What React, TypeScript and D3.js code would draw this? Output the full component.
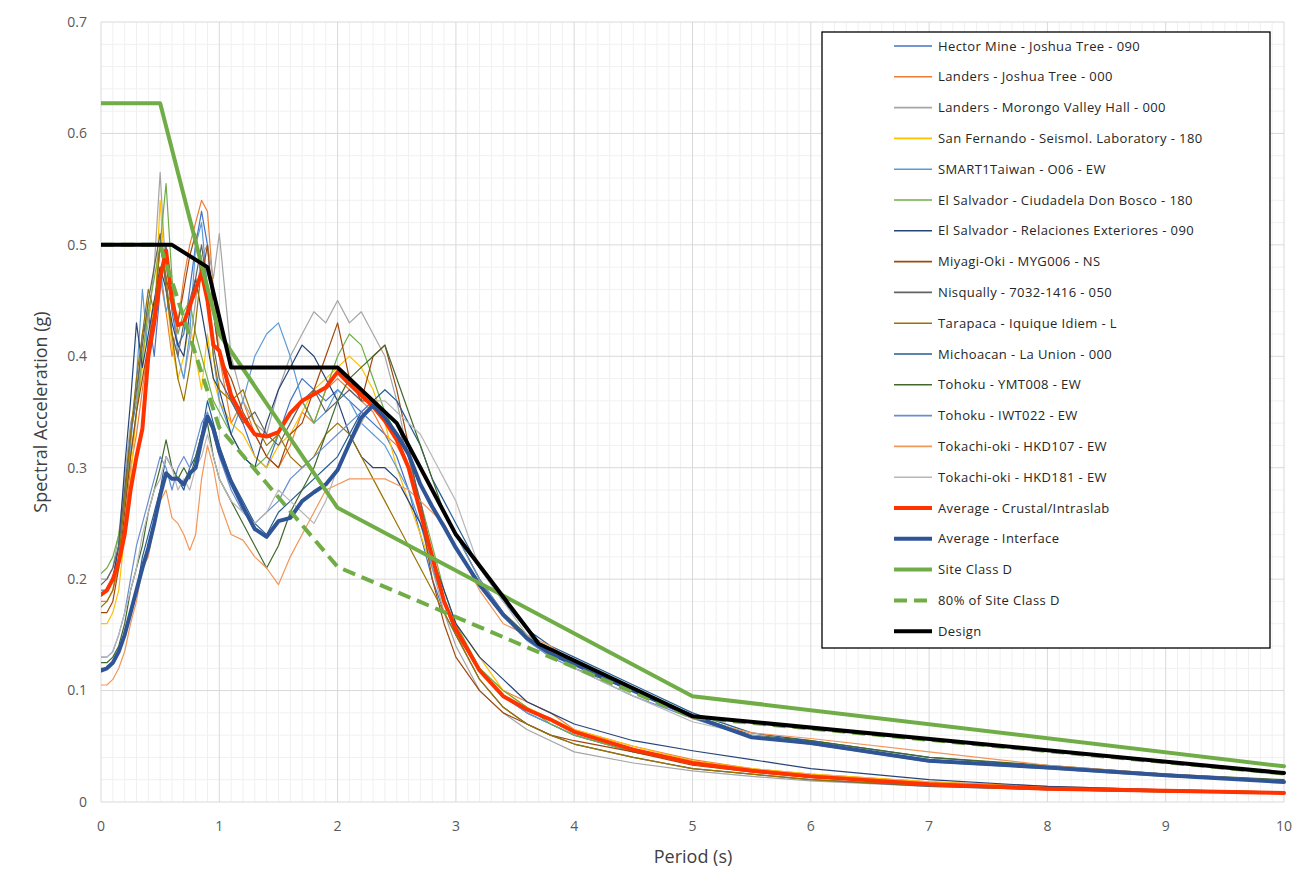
import React from "react";
import * as d3 from "d3";

// Periods (s) at which every spectrum is sampled
const PERIODS = [
  0, 0.05, 0.1, 0.15, 0.2, 0.25, 0.3, 0.35, 0.4, 0.45, 0.5, 0.55, 0.6, 0.65, 0.7, 0.75, 0.8, 0.85, 0.9, 0.95, 1.0,
  1.1, 1.2, 1.3, 1.4, 1.5, 1.6, 1.7, 1.8, 1.9, 2.0, 2.1, 2.2, 2.3, 2.4, 2.5, 2.6, 2.7, 2.8, 2.9, 3.0,
  3.2, 3.4, 3.6, 3.8, 4.0,
  4.5, 5.0, 5.5, 6.0,
  7.0, 8.0, 9.0, 10.0,
];

// Spectral accelerations (g) of the individual records
const HECTOR_MINE_JT_090 = [
  0.19, 0.19, 0.2, 0.23, 0.28, 0.33, 0.36, 0.42, 0.44, 0.4, 0.46, 0.5, 0.44, 0.41, 0.42, 0.46, 0.5, 0.53, 0.5, 0.44, 0.4,
  0.36, 0.34, 0.31, 0.3, 0.33, 0.36, 0.38, 0.37, 0.36, 0.37, 0.36, 0.35, 0.34, 0.33, 0.31, 0.28, 0.24, 0.2, 0.17, 0.15,
  0.12, 0.095, 0.08, 0.07, 0.06,
  0.045, 0.035, 0.028, 0.022,
  0.016, 0.012, 0.01, 0.008,
];
const LANDERS_JT_000 = [
  0.18, 0.18, 0.19, 0.21, 0.25, 0.3, 0.33, 0.37, 0.41, 0.45, 0.47, 0.44, 0.4, 0.43, 0.47, 0.5, 0.52, 0.54, 0.53, 0.46, 0.4,
  0.34, 0.36, 0.33, 0.31, 0.3, 0.32, 0.35, 0.34, 0.37, 0.38, 0.37, 0.36, 0.35, 0.33, 0.32, 0.3, 0.27, 0.22, 0.18, 0.15,
  0.12, 0.1, 0.09, 0.08, 0.065,
  0.05, 0.038, 0.03, 0.025,
  0.018, 0.014, 0.011, 0.009,
];
const LANDERS_MVH_000 = [
  0.2, 0.2, 0.21, 0.24, 0.29, 0.34, 0.36, 0.4, 0.43, 0.48, 0.565, 0.47, 0.42, 0.4, 0.38, 0.41, 0.45, 0.49, 0.5, 0.47, 0.51,
  0.4, 0.36, 0.34, 0.33, 0.37, 0.4, 0.42, 0.44, 0.43, 0.45, 0.43, 0.44, 0.42, 0.4, 0.36, 0.31, 0.26, 0.21, 0.17, 0.14,
  0.1, 0.08, 0.065, 0.055, 0.045,
  0.035, 0.028, 0.023, 0.019,
  0.014, 0.011, 0.009, 0.008,
];
const SAN_FERNANDO_SL_180 = [
  0.16, 0.16, 0.17, 0.19, 0.24, 0.29, 0.35, 0.39, 0.45, 0.43, 0.54, 0.46, 0.41, 0.38, 0.4, 0.43, 0.4, 0.37, 0.42, 0.38, 0.36,
  0.34, 0.33, 0.31, 0.3, 0.32, 0.33, 0.35, 0.37, 0.38, 0.39, 0.4, 0.39, 0.37, 0.34, 0.3, 0.27, 0.24, 0.21, 0.18, 0.16,
  0.13, 0.1, 0.085, 0.075, 0.065,
  0.05, 0.037, 0.03, 0.025,
  0.018, 0.013, 0.011, 0.009,
];
const SMART1_O06_EW = [
  0.19, 0.19, 0.2, 0.22, 0.27, 0.32, 0.38, 0.46, 0.4, 0.43, 0.48, 0.44, 0.46, 0.4, 0.38, 0.42, 0.5, 0.52, 0.46, 0.4, 0.36,
  0.33, 0.36, 0.4, 0.42, 0.43, 0.4, 0.36, 0.34, 0.35, 0.37, 0.36, 0.34, 0.33, 0.32, 0.3, 0.28, 0.25, 0.21, 0.18, 0.155,
  0.12, 0.095, 0.08, 0.07, 0.06,
  0.045, 0.035, 0.028, 0.023,
  0.016, 0.012, 0.01, 0.008,
];
const EL_SALVADOR_CDB_180 = [
  0.205, 0.21, 0.22, 0.24, 0.27, 0.31, 0.35, 0.4, 0.44, 0.47, 0.5, 0.555, 0.47, 0.42, 0.44, 0.45, 0.42, 0.4, 0.38, 0.36, 0.35,
  0.33, 0.31, 0.3, 0.31, 0.33, 0.35, 0.36, 0.34, 0.37, 0.4, 0.42, 0.41, 0.38, 0.35, 0.33, 0.3, 0.27, 0.23, 0.19, 0.16,
  0.12, 0.1, 0.085, 0.07, 0.06,
  0.045, 0.035, 0.028, 0.022,
  0.016, 0.012, 0.01, 0.008,
];
const EL_SALVADOR_RE_090 = [
  0.185, 0.19, 0.2, 0.23, 0.3, 0.36, 0.43, 0.39, 0.42, 0.45, 0.48, 0.46, 0.43, 0.41, 0.4, 0.44, 0.47, 0.44, 0.41, 0.38, 0.37,
  0.33, 0.31, 0.3, 0.34, 0.37, 0.39, 0.41, 0.4, 0.38, 0.36, 0.33, 0.31, 0.3, 0.3, 0.29, 0.27, 0.25, 0.22, 0.19, 0.16,
  0.13, 0.11, 0.09, 0.08, 0.07,
  0.055, 0.046, 0.038, 0.03,
  0.02, 0.014, 0.011, 0.009,
];
const MIYAGI_MYG006_NS = [
  0.17, 0.17, 0.18, 0.21, 0.26, 0.31, 0.35, 0.38, 0.41, 0.44, 0.5, 0.47, 0.45, 0.43, 0.46, 0.49, 0.51, 0.47, 0.5, 0.44, 0.4,
  0.38, 0.35, 0.33, 0.31, 0.3, 0.33, 0.34, 0.37, 0.4, 0.43, 0.38, 0.36, 0.4, 0.41, 0.37, 0.32, 0.26, 0.2, 0.16, 0.13,
  0.1, 0.08, 0.07, 0.06, 0.055,
  0.045, 0.033, 0.027, 0.022,
  0.016, 0.012, 0.01, 0.008,
];
const NISQUALLY_7032_050 = [
  0.195, 0.2, 0.21, 0.23, 0.28, 0.33, 0.37, 0.41, 0.45, 0.48, 0.51, 0.46, 0.42, 0.4, 0.43, 0.45, 0.47, 0.5, 0.46, 0.41, 0.38,
  0.36, 0.34, 0.35, 0.33, 0.32, 0.34, 0.36, 0.37, 0.35, 0.36, 0.37, 0.36, 0.36, 0.35, 0.34, 0.31, 0.27, 0.22, 0.18, 0.15,
  0.11, 0.085, 0.07, 0.06, 0.052,
  0.04, 0.03, 0.025, 0.02,
  0.014, 0.011, 0.009, 0.008,
];
const TARAPACA_IQUIQUE_L = [
  0.175, 0.18, 0.19, 0.22, 0.27, 0.33, 0.38, 0.42, 0.46, 0.44, 0.5, 0.47, 0.42, 0.38, 0.36, 0.39, 0.43, 0.48, 0.46, 0.4, 0.37,
  0.36, 0.37, 0.34, 0.32, 0.33, 0.31, 0.3, 0.31, 0.33, 0.34, 0.33, 0.31, 0.29, 0.27, 0.25, 0.23, 0.21, 0.19, 0.17, 0.15,
  0.11, 0.085, 0.07, 0.06, 0.052,
  0.04, 0.03, 0.025, 0.02,
  0.015, 0.011, 0.009, 0.008,
];
const MICHOACAN_LU_000 = [
  0.12, 0.12, 0.125, 0.135, 0.15, 0.17, 0.19, 0.22, 0.24, 0.26, 0.28, 0.31, 0.3, 0.29, 0.28, 0.3, 0.31, 0.33, 0.36, 0.34, 0.32,
  0.29, 0.27, 0.25, 0.24, 0.26, 0.27, 0.28, 0.29, 0.3, 0.31, 0.33, 0.35, 0.36, 0.37, 0.36, 0.34, 0.32, 0.29, 0.27, 0.25,
  0.21, 0.18, 0.155, 0.14, 0.13,
  0.105, 0.08, 0.062, 0.055,
  0.04, 0.032, 0.025, 0.019,
];
const TOHOKU_YMT008_EW = [
  0.125, 0.125, 0.13, 0.14, 0.16, 0.19, 0.21, 0.23, 0.26, 0.28, 0.3, 0.325, 0.3, 0.29, 0.3, 0.29, 0.31, 0.33, 0.34, 0.31, 0.29,
  0.27, 0.25, 0.23, 0.21, 0.23, 0.26, 0.28, 0.3, 0.33, 0.36, 0.38, 0.39, 0.4, 0.41, 0.38, 0.35, 0.32, 0.29, 0.26, 0.24,
  0.2, 0.17, 0.15, 0.135, 0.12,
  0.1, 0.078, 0.06, 0.055,
  0.04, 0.033, 0.025, 0.02,
];
const TOHOKU_IWT022_EW = [
  0.13, 0.13, 0.135, 0.15, 0.17, 0.2, 0.23, 0.25, 0.27, 0.29, 0.31, 0.3, 0.28, 0.3, 0.31, 0.3, 0.32, 0.34, 0.35, 0.33, 0.31,
  0.28, 0.26, 0.25, 0.26, 0.27, 0.29, 0.3, 0.31, 0.32, 0.33, 0.34, 0.35, 0.36, 0.35, 0.34, 0.32, 0.3, 0.28, 0.26, 0.24,
  0.2, 0.17, 0.145, 0.13, 0.12,
  0.095, 0.075, 0.058, 0.052,
  0.036, 0.03, 0.023, 0.018,
];
const TOKACHI_HKD107_EW = [
  0.105, 0.105, 0.11, 0.12, 0.135, 0.16, 0.18, 0.21, 0.22, 0.25, 0.27, 0.28, 0.255, 0.25, 0.24, 0.226, 0.24, 0.29, 0.32, 0.3, 0.27,
  0.24, 0.235, 0.22, 0.21, 0.195, 0.22, 0.24, 0.26, 0.28, 0.285, 0.29, 0.29, 0.29, 0.29, 0.285, 0.28, 0.27, 0.26, 0.25, 0.23,
  0.19, 0.16, 0.15, 0.14, 0.125,
  0.1, 0.075, 0.062, 0.057,
  0.045, 0.033, 0.025, 0.019,
];
const TOKACHI_HKD181_EW = [
  0.13, 0.13, 0.135, 0.15, 0.17, 0.19, 0.21, 0.24, 0.26, 0.28, 0.29, 0.31, 0.3, 0.28, 0.29, 0.28, 0.3, 0.31, 0.33, 0.31, 0.29,
  0.27, 0.26, 0.25, 0.26, 0.28, 0.27, 0.26, 0.25, 0.27, 0.3, 0.32, 0.34, 0.36, 0.36, 0.35, 0.34, 0.33, 0.31, 0.29, 0.27,
  0.21, 0.18, 0.15, 0.135, 0.12,
  0.095, 0.072, 0.06, 0.052,
  0.038, 0.03, 0.023, 0.018,
];

// Group averages (g)
const AVG_CRUSTAL = [
  0.186, 0.19, 0.2, 0.215, 0.24, 0.28, 0.31, 0.335, 0.4, 0.43, 0.47, 0.495, 0.45, 0.428, 0.43, 0.445, 0.46, 0.475, 0.45, 0.41, 0.405,
  0.365, 0.345, 0.33, 0.328, 0.332, 0.349, 0.36, 0.366, 0.372, 0.386, 0.375, 0.365, 0.355, 0.342, 0.325, 0.3, 0.26, 0.22, 0.18, 0.155,
  0.118, 0.095, 0.083, 0.074, 0.063,
  0.047, 0.035, 0.028, 0.023,
  0.016, 0.012, 0.01, 0.008,
];
const AVG_INTERFACE = [
  0.118, 0.12, 0.125, 0.135, 0.15, 0.17, 0.19, 0.21, 0.228, 0.25, 0.275, 0.295, 0.29, 0.29, 0.285, 0.295, 0.3, 0.325, 0.346, 0.335, 0.315,
  0.287, 0.265, 0.245, 0.238, 0.252, 0.255, 0.27, 0.278, 0.285, 0.298, 0.322, 0.345, 0.356, 0.345, 0.33, 0.312, 0.285, 0.265, 0.247, 0.228,
  0.195, 0.168, 0.147, 0.133, 0.124,
  0.1, 0.077, 0.058, 0.053,
  0.037, 0.031, 0.024, 0.018,
];

// Code spectra: period breakpoints and ordinates
const SITE_D_PERIODS = [0, 0.5, 1.0, 2.0, 5.0, 10.0];
const SITE_D_SA = [0.627, 0.627, 0.42, 0.264, 0.095, 0.032];
const SITE_D_80_SA = [0.5, 0.5, 0.336, 0.211, 0.076, 0.0256];
const DESIGN_PERIODS = [0, 0.6, 0.9, 1.1, 2.0, 2.5, 3.0, 3.7, 5.0, 10.0];
const DESIGN_SA = [0.5, 0.5, 0.48, 0.39, 0.39, 0.34, 0.24, 0.142, 0.077, 0.026];

const X_TICKS = [0, 1, 2, 3, 4, 5, 6, 7, 8, 9, 10];
const Y_TICKS = [0, 0.1, 0.2, 0.3, 0.4, 0.5, 0.6, 0.7];

type Series = {
  name: string;
  color: string;
  width: number;
  dash?: string;
  periods: number[];
  values: number[];
};

const RECORDS: Series[] = [
  { name: "Hector Mine - Joshua Tree - 090", color: "#4472C4", width: 1.2, periods: PERIODS, values: HECTOR_MINE_JT_090 },
  { name: "Landers - Joshua Tree - 000", color: "#ED7D31", width: 1.2, periods: PERIODS, values: LANDERS_JT_000 },
  { name: "Landers -  Morongo Valley Hall - 000", color: "#A5A5A5", width: 1.2, periods: PERIODS, values: LANDERS_MVH_000 },
  { name: "San Fernando - Seismol. Laboratory - 180", color: "#FFC000", width: 1.2, periods: PERIODS, values: SAN_FERNANDO_SL_180 },
  { name: "SMART1Taiwan - O06 - EW", color: "#5B9BD5", width: 1.2, periods: PERIODS, values: SMART1_O06_EW },
  { name: "El Salvador - Ciudadela Don Bosco - 180", color: "#70AD47", width: 1.2, periods: PERIODS, values: EL_SALVADOR_CDB_180 },
  { name: "El Salvador - Relaciones Exteriores - 090", color: "#264478", width: 1.2, periods: PERIODS, values: EL_SALVADOR_RE_090 },
  { name: "Miyagi-Oki - MYG006 - NS", color: "#9E480E", width: 1.2, periods: PERIODS, values: MIYAGI_MYG006_NS },
  { name: "Nisqually - 7032-1416 - 050", color: "#636363", width: 1.2, periods: PERIODS, values: NISQUALLY_7032_050 },
  { name: "Tarapaca -  Iquique Idiem - L", color: "#997300", width: 1.2, periods: PERIODS, values: TARAPACA_IQUIQUE_L },
  { name: "Michoacan - La Union - 000", color: "#255E91", width: 1.2, periods: PERIODS, values: MICHOACAN_LU_000 },
  { name: "Tohoku - YMT008 -  EW", color: "#43682B", width: 1.2, periods: PERIODS, values: TOHOKU_YMT008_EW },
  { name: "Tohoku - IWT022 -  EW", color: "#698ED0", width: 1.2, periods: PERIODS, values: TOHOKU_IWT022_EW },
  { name: "Tokachi-oki - HKD107 - EW", color: "#F1975A", width: 1.2, periods: PERIODS, values: TOKACHI_HKD107_EW },
  { name: "Tokachi-oki - HKD181 - EW", color: "#B7B7B7", width: 1.2, periods: PERIODS, values: TOKACHI_HKD181_EW },
];

const SUMMARY: Series[] = [
  { name: "Average - Crustal/Intraslab", color: "#FF3300", width: 4, periods: PERIODS, values: AVG_CRUSTAL },
  { name: "Average - Interface", color: "#2F5597", width: 4, periods: PERIODS, values: AVG_INTERFACE },
  { name: "Site Class D", color: "#70AD47", width: 4, periods: SITE_D_PERIODS, values: SITE_D_SA },
  { name: "80% of Site Class D", color: "#70AD47", width: 4, dash: "13,7", periods: SITE_D_PERIODS, values: SITE_D_80_SA },
  { name: "Design", color: "#000000", width: 4, periods: DESIGN_PERIODS, values: DESIGN_SA },
];

const ALL_SERIES = [...RECORDS, ...SUMMARY];

const W = 1295;
const H = 883;
const PLOT = { left: 101, right: 1284, top: 22, bottom: 802 };
const FONT = "'Open Sans', 'Noto Sans', sans-serif";

export default function App() {
  const x = d3.scaleLinear().domain([0, 10]).range([PLOT.left, PLOT.right]);
  const y = d3.scaleLinear().domain([0, 0.7]).range([PLOT.bottom, PLOT.top]);

  const minorX = d3.range(0, 101).map((i) => i / 10).filter((v) => Math.abs(v - Math.round(v)) > 1e-6);
  const minorY = d3.range(0, 36).map((i) => i / 50).filter((v) => Math.abs(v * 10 - Math.round(v * 10)) > 1e-6);

  const lineFor = (s: Series) =>
    d3
      .line<number>()
      .x((_, i) => x(s.periods[i]))
      .y((v) => y(v))(s.values) || "";

  const legend = { x: 822, y: 32, w: 448, h: 616, firstRow: 46, step: 30.8, sampleX0: 894, sampleX1: 932, textX: 938 };

  return (
    <svg
      width={W}
      height={H}
      viewBox={`0 0 ${W} ${H}`}
      style={{ position: "absolute", left: 0, top: 0, background: "#fff" }}
      fontFamily={FONT}
    >
      <defs>
        <clipPath id="plot-clip">
          <rect x={PLOT.left} y={PLOT.top - 2} width={PLOT.right - PLOT.left + 2} height={PLOT.bottom - PLOT.top + 4} />
        </clipPath>
      </defs>
      <rect x={0} y={0} width={W} height={H} fill="#fff" />

      {/* minor gridlines */}
      <g stroke="#F0F0F0" strokeWidth={1}>
        {minorX.map((v) => (
          <line key={`mx${v}`} x1={x(v)} x2={x(v)} y1={PLOT.top} y2={PLOT.bottom} />
        ))}
        {minorY.map((v) => (
          <line key={`my${v}`} x1={PLOT.left} x2={PLOT.right} y1={y(v)} y2={y(v)} />
        ))}
      </g>
      {/* major gridlines */}
      <g stroke="#D9D9D9" strokeWidth={1}>
        {X_TICKS.map((v) => (
          <line key={`gx${v}`} x1={x(v)} x2={x(v)} y1={PLOT.top} y2={PLOT.bottom} />
        ))}
        {Y_TICKS.map((v) => (
          <line key={`gy${v}`} x1={PLOT.left} x2={PLOT.right} y1={y(v)} y2={y(v)} />
        ))}
      </g>

      {/* spectra */}
      <g clipPath="url(#plot-clip)" fill="none" strokeLinejoin="round">
        {ALL_SERIES.map((s) => (
          <path
            key={s.name}
            d={lineFor(s)}
            stroke={s.color}
            strokeWidth={s.width}
            strokeDasharray={s.dash}
            strokeLinecap={s.dash ? "butt" : "round"}
          />
        ))}
      </g>

      {/* tick labels */}
      <g fill="#595959" fontSize={14}>
        {Y_TICKS.map((v) => (
          <text key={`yt${v}`} x={87} y={y(v)} dy="0.35em" textAnchor="end">
            {d3.format("")(+v.toFixed(1))}
          </text>
        ))}
        {X_TICKS.map((v) => (
          <text key={`xt${v}`} x={x(v)} y={831} textAnchor="middle">
            {v}
          </text>
        ))}
      </g>

      {/* axis titles */}
      <text x={693} y={863} textAnchor="middle" fontSize={18} fill="#404040">
        Period (s)
      </text>
      <text
        transform={`translate(47, ${(PLOT.top + PLOT.bottom) / 2}) rotate(-90)`}
        textAnchor="middle"
        fontSize={18}
        fill="#404040"
      >
        Spectral Acceleration (g)
      </text>

      {/* legend */}
      <g>
        <rect x={legend.x} y={legend.y} width={legend.w} height={legend.h} fill="#fff" stroke="#000" strokeWidth={1.3} />
        {ALL_SERIES.map((s, i) => {
          const cy = legend.firstRow + i * legend.step;
          return (
            <g key={`lg${s.name}`}>
              <line
                x1={legend.sampleX0}
                x2={legend.sampleX1}
                y1={cy}
                y2={cy}
                stroke={s.color}
                strokeWidth={s.width === 4 ? 4 : 1.6}
                strokeDasharray={s.dash ? "13,7" : undefined}
              />
              <text x={legend.textX} y={cy} dy="0.35em" fontSize={13} letterSpacing={0.4} fill="#262626">
                {s.name}
              </text>
            </g>
          );
        })}
      </g>
    </svg>
  );
}
